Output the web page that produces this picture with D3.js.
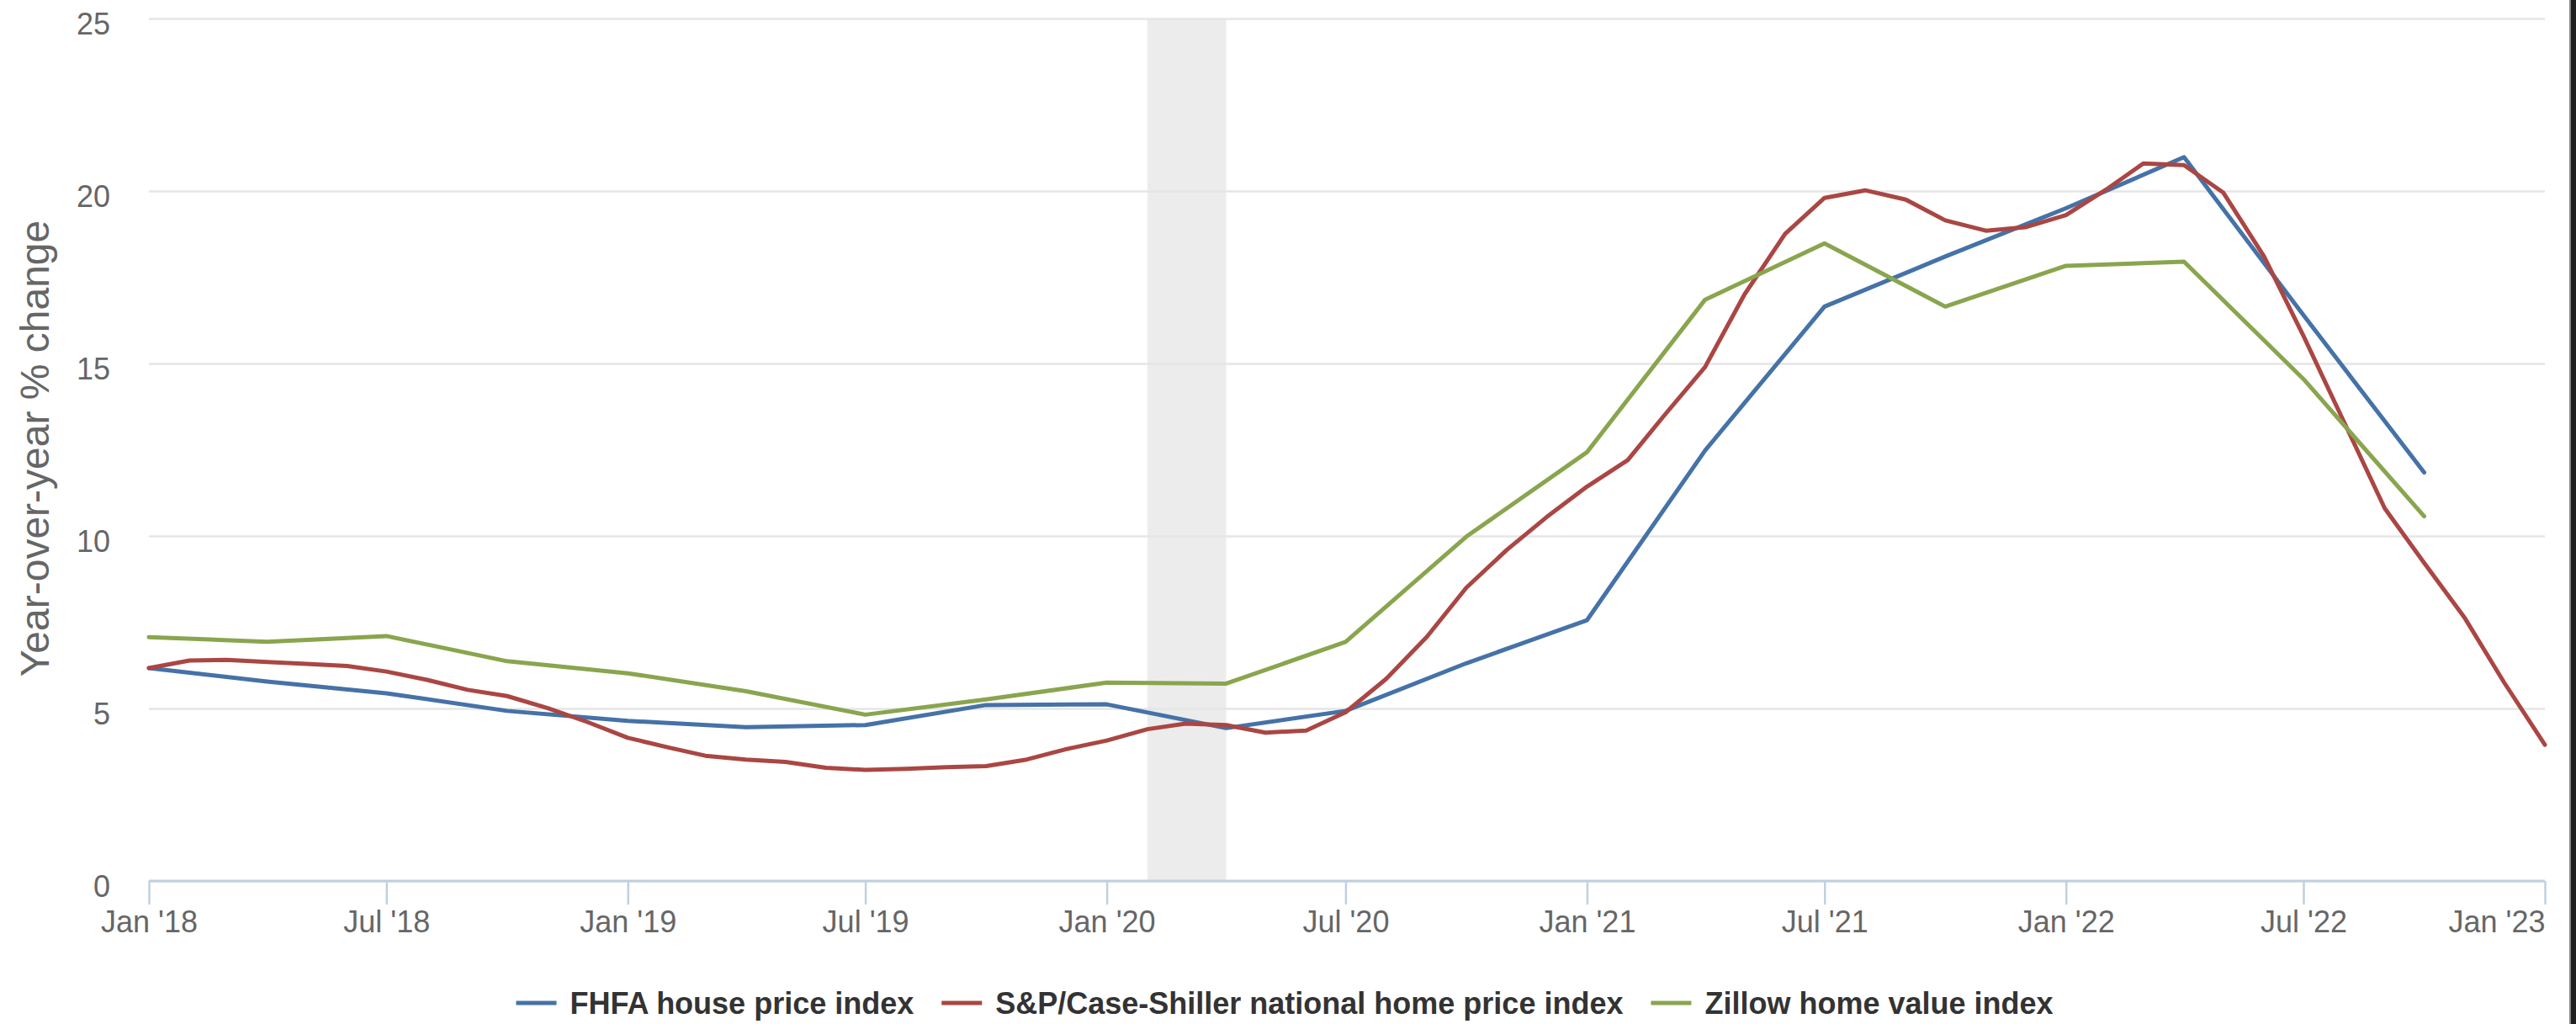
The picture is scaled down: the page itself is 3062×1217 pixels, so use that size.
<!DOCTYPE html>
<html>
<head>
<meta charset="utf-8">
<script src="https://cdn.jsdelivr.net/npm/d3@7"></script>
<style>
  html, body { margin: 0; padding: 0; background: #ffffff; }
  svg { display: block; font-family: "Liberation Sans", Arial, Helvetica, sans-serif; }
</style>
</head>
<body>
<svg id="chart" width="3062" height="1217"></svg>
<script>
// Year-over-year % change in U.S. house price indexes, Jan 2018 - Jan 2023

// S&P/Case-Shiller national index, monthly from Jan 2018 to Jan 2023
const caseShillerStart = "2018-01";
const caseShillerValues = [
  6.17, 6.39, 6.41, 6.35, 6.29, 6.23, 6.07, 5.83, 5.54, 5.36, 5.01, 4.61,
  4.15, 3.87, 3.63, 3.52, 3.45, 3.28, 3.22, 3.25, 3.30, 3.33, 3.52, 3.82,
  4.07, 4.40, 4.56, 4.52, 4.30, 4.36, 4.89, 5.86, 7.08, 8.50, 9.60, 10.54,
  11.43, 12.20, 13.50, 14.90, 17.00, 18.76, 19.80, 20.02, 19.75, 19.15, 18.85, 18.95,
  19.30, 20.05, 20.80, 20.75, 19.95, 18.10, 15.80, 13.30, 10.80, 9.22, 7.62, 5.75,
  3.95
];

// FHFA and Zillow, quarterly from Jan 2018 to Oct 2022
const quarterlyStart = "2018-01";
const fhfaValues = [
  6.17, 5.78, 5.44, 4.93, 4.64, 4.46, 4.52, 5.10, 5.12, 4.43,
  4.93, 6.31, 7.56, 12.48, 16.65, 18.10, 19.50, 20.98, 16.40, 11.84
];
const zillowValues = [
  7.07, 6.93, 7.10, 6.37, 6.02, 5.50, 4.82, 5.26, 5.75, 5.72,
  6.93, 9.98, 12.43, 16.85, 18.48, 16.65, 17.83, 17.95, 14.55, 10.57
];

const seriesNames = [
  "FHFA house price index",
  "S&P/Case-Shiller national home price index",
  "Zillow home value index"
];
const seriesColors = ["#4572A7", "#AA4643", "#89A54E"];

// COVID-19 recession shading
const recessionStart = "2020-02-01";
const recessionEnd = "2020-04-01";

const yTicks = [0, 5, 10, 15, 20, 25];
const xTickDates = [
  "2018-01-01", "2018-07-01", "2019-01-01", "2019-07-01", "2020-01-01", "2020-07-01",
  "2021-01-01", "2021-07-01", "2022-01-01", "2022-07-01", "2023-01-01"
];
const xTickLabels = [
  "Jan '18", "Jul '18", "Jan '19", "Jul '19", "Jan '20", "Jul '20",
  "Jan '21", "Jul '21", "Jan '22", "Jul '22", "Jan '23"
];
const yAxisTitle = "Year-over-year % change";

// ---- layout ----
const plot = { left: 177, right: 3025, top: 22, bottom: 1047 };
const svg = d3.select("#chart");

const parseMonth = d3.timeParse("%Y-%m");
const parseDay = d3.timeParse("%Y-%m-%d");

function monthlySeries(start, values, stepMonths) {
  const s = parseMonth(start);
  return values.map((v, i) => ({ date: d3.timeMonth.offset(s, i * stepMonths), value: v }));
}

const caseShiller = monthlySeries(caseShillerStart, caseShillerValues, 1);
const fhfa = monthlySeries(quarterlyStart, fhfaValues, 3);
const zillow = monthlySeries(quarterlyStart, zillowValues, 3);

const x = d3.scaleTime()
  .domain([parseDay("2018-01-01"), parseDay("2023-01-01")])
  .range([plot.left, plot.right]);
const y = d3.scaleLinear()
  .domain([0, 25])
  .range([plot.bottom, plot.top]);

// recession band
svg.append("rect")
  .attr("x", x(parseDay(recessionStart)))
  .attr("y", plot.top)
  .attr("width", x(parseDay(recessionEnd)) - x(parseDay(recessionStart)))
  .attr("height", plot.bottom - plot.top)
  .attr("fill", "#ececec");

// horizontal grid lines and y labels
const yAxis = d3.axisLeft(y)
  .tickValues(yTicks)
  .tickSize(-(plot.right - plot.left))
  .tickPadding(46)
  .tickFormat(d3.format("d"));

const gy = svg.append("g")
  .attr("transform", `translate(${plot.left},0)`)
  .call(yAxis);
gy.select(".domain").remove();
gy.selectAll(".tick line")
  .attr("stroke", "#e6e6e6")
  .attr("stroke-width", 2.5);
gy.selectAll(".tick text")
  .attr("fill", "#666666")
  .attr("font-size", 36)
  .attr("dy", "0.5em");

// y axis title
svg.append("text")
  .attr("transform", `translate(58,533) rotate(-90)`)
  .attr("text-anchor", "middle")
  .attr("fill", "#666666")
  .attr("font-size", 48)
  .text(yAxisTitle);

// x axis
const xAxis = d3.axisBottom(x)
  .tickValues(xTickDates.map(parseDay))
  .tickSize(28)
  .tickPadding(6)
  .tickFormat((d, i) => xTickLabels[i]);

const gx = svg.append("g")
  .attr("transform", `translate(0,${plot.bottom})`)
  .call(xAxis);
gx.select(".domain")
  .attr("d", `M${plot.left},0H${plot.right}`)
  .attr("stroke", "#c0d0e0")
  .attr("stroke-width", 3);
gx.selectAll(".tick line")
  .attr("stroke", "#c0d0e0")
  .attr("stroke-width", 2.5);
gx.selectAll(".tick text")
  .attr("fill", "#666666")
  .attr("font-size", 36)
  .attr("y", 35)
  .attr("dy", "0.71em")
  .attr("text-anchor", (d, i) => i === xTickDates.length - 1 ? "end" : "middle");

// series lines
const line = d3.line()
  .x(d => x(d.date))
  .y(d => y(d.value));

const seriesData = [fhfa, caseShiller, zillow];
svg.append("g")
  .selectAll("path")
  .data(seriesData)
  .join("path")
  .attr("d", line)
  .attr("fill", "none")
  .attr("stroke", (d, i) => seriesColors[i])
  .attr("stroke-width", 5)
  .attr("stroke-linejoin", "round")
  .attr("stroke-linecap", "round");

// legend, centred under the chart
const legend = svg.append("g");
const items = legend.selectAll("g")
  .data(seriesNames)
  .join("g");
items.append("line")
  .attr("x1", 0).attr("x2", 48)
  .attr("y1", 0).attr("y2", 0)
  .attr("stroke", (d, i) => seriesColors[i])
  .attr("stroke-width", 5);
items.append("text")
  .attr("x", 64)
  .attr("y", 13)
  .attr("font-size", 36)
  .attr("font-weight", "bold")
  .attr("fill", "#333333")
  .text(d => d);

let cursor = 0;
const gap = 33;
items.each(function () {
  const w = 64 + this.querySelector("text").getComputedTextLength();
  d3.select(this).attr("transform", `translate(${cursor},0)`);
  cursor += w + gap;
});
const totalWidth = cursor - gap;
legend.attr("transform", `translate(${1527 - totalWidth / 2},1192)`);

// dark frame edge on the right
svg.append("rect")
  .attr("x", 3054).attr("y", 0)
  .attr("width", 8).attr("height", 1217)
  .attr("fill", "#1e1e1e");
svg.append("rect")
  .attr("x", 3054).attr("y", 0)
  .attr("width", 2).attr("height", 1217)
  .attr("fill", "#8a8a8a");
</script>
</body>
</html>
